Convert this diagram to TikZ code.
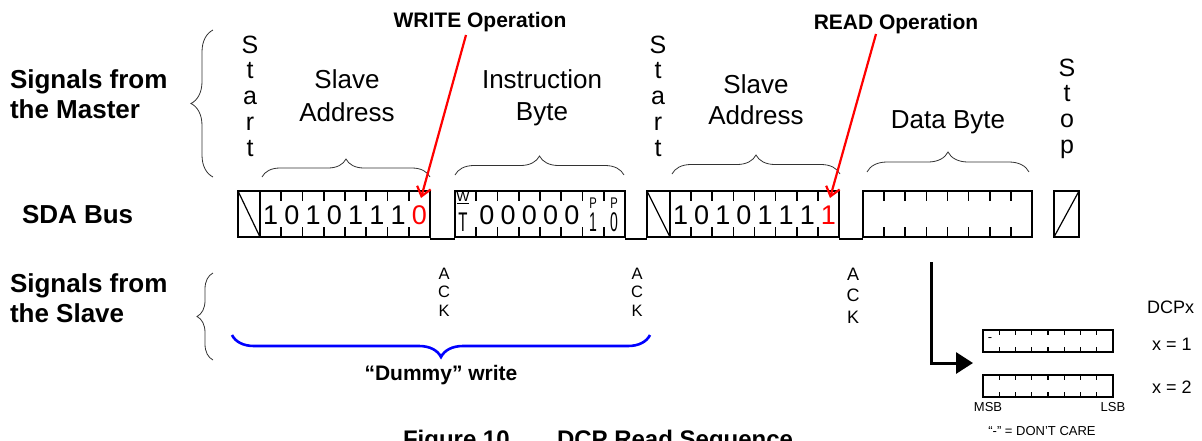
\documentclass[tikz,border=0pt]{standalone}
\usepackage{fontspec}
\setmainfont{Liberation Sans}
\usetikzlibrary{decorations.pathreplacing,arrows.meta}
\begin{document}
\begin{tikzpicture}[x=1pt,y=-1pt,
  every node/.style={inner sep=0pt, outer sep=0pt},
  bus/.style={line width=2pt},
  bustick/.style={line width=1.6pt},
  lowline/.style={line width=2pt},
  sidelbl/.style={font=\fontsize{26}{30}\selectfont\bfseries, anchor=base west},
  fieldlbl/.style={font=\fontsize{26}{30}\selectfont, anchor=base},
  vletter/.style={font=\fontsize{25}{30}\selectfont, anchor=base},
  digit/.style={font=\fontsize{27}{30}\selectfont, anchor=base},
  acklet/.style={font=\fontsize{16.5}{18}\selectfont, anchor=base},
  oplbl/.style={font=\fontsize{21}{24}\selectfont\bfseries, anchor=base},
  brc/.style={decorate, decoration={brace, amplitude=#1}, line width=0.8pt, black!80},
  redarrow/.style={draw=red, line width=2.2pt, -{Straight Barb[length=9pt,width=14pt,line width=2.2pt]}},
  regbox/.style={line width=1.8pt},
  regtick/.style={line width=1.3pt},
  small/.style={font=\fontsize{13}{15}\selectfont, anchor=base},
  dcp/.style={font=\fontsize{18}{20}\selectfont, anchor=base west}
]
\useasboundingbox (0,0) rectangle (1202,440);

% ---------- left labels ----------
\node[sidelbl] (m1) at (10,88) {Signals from};
\node[sidelbl] (m2) at (10,118) {the Master};
\node[sidelbl] (sda) at (22,223) {SDA Bus};
\node[sidelbl] (s1) at (10,292) {Signals from};
\node[sidelbl] (s2) at (10,322) {the Slave};

\draw[brc=22pt] (213,177) -- (213,30);
\draw[brc=16pt] (213,360) -- (213,273);

% ---------- Start / Stop vertical letters ----------
\foreach \c [count=\i from 0] in {S,t,a,r,t}
  \node[vletter, name=stA\i] at (250,53+25.8*\i) {\c};
\foreach \c [count=\i from 0] in {S,t,a,r,t}
  \node[vletter, name=stB\i] at (658,53+25.8*\i) {\c};
\foreach \c [count=\i from 0] in {S,t,o,p}
  \node[vletter, name=sp\i] at (1067,76+25.8*\i) {\c};

% ---------- field labels ----------
\node[fieldlbl] (sa1a) at (347,88) {Slave};
\node[fieldlbl] (sa1b) at (347,121) {Address};
\node[fieldlbl] (ib1) at (542,88) {Instruction};
\node[fieldlbl] (ib2) at (542,120) {Byte};
\node[fieldlbl] (sa2a) at (756,93) {Slave};
\node[fieldlbl] (sa2b) at (756,124) {Address};
\node[fieldlbl] (db) at (948,128) {Data Byte};

% ---------- braces over fields ----------
\draw[brc=18pt] (262,177) -- (430,177);
\draw[brc=19pt] (455,175) -- (624,175);
\draw[brc=19pt] (672,174) -- (840,174);
\draw[brc=20pt] (867,172) -- (1029,172);

% ---------- operation labels ----------
\node[oplbl] (wop) at (480,27) {WRITE Operation};
\node[oplbl] (rop) at (896,29) {READ Operation};

% ---------- SDA bus ----------
% start 1
\draw[bus] (238,191) rectangle (260,237);
\draw[line width=1.2pt] (238,191) -- (260,237);
% slave address 1
\draw[bus] (260,191) rectangle (430,237);
\foreach \k in {1,...,7}
  \draw[bustick] (260+21.25*\k,191) -- ++(0,10) (260+21.25*\k,237) -- ++(0,-10);
\foreach \d [count=\i from 0] in {1,0,1,0,1,1,1}
  \node[digit, name=a\i] at (260+21.25*\i+10.625,224) {\d};
\node[digit, text=red] (a7) at (260+21.25*7+10.625,224) {0};
\draw[lowline] (430,238.5) -- (455,238.5);
% instruction byte
\draw[bus] (455,191) rectangle (625,237);
\foreach \k in {1,...,7}
  \draw[bustick] (455+21.25*\k,191) -- ++(0,10) (455+21.25*\k,237) -- ++(0,-10);
\foreach \i in {1,...,5}
  \node[digit, name=b\i] at (455+21.25*\i+10.625,224) {0};
\node[anchor=base, font=\fontsize{14}{14}\selectfont] (bw) at (463,201) {W};
\draw[line width=0.8pt] (457,203) -- (469,203);
\node[anchor=base, font=\fontsize{20}{22}\selectfont] (bt) at (463,231) {\scalebox{0.75}[1.35]{T}};
\node[anchor=base, font=\fontsize{14}{14}\selectfont] (bp1) at (593,208) {\scalebox{0.8}[1.1]{P}};
\node[anchor=base, font=\fontsize{20}{22}\selectfont] (b1) at (593,231) {\scalebox{0.7}[1.35]{1}};
\node[anchor=base, font=\fontsize{14}{14}\selectfont] (bp0) at (614,208) {\scalebox{0.8}[1.1]{P}};
\node[anchor=base, font=\fontsize{20}{22}\selectfont] (b0) at (614,231) {\scalebox{0.7}[1.35]{0}};
\draw[lowline] (625,238.5) -- (647,238.5);
% start 2
\draw[bus] (647,191) rectangle (670,237);
\draw[line width=1.2pt] (647,191) -- (670,237);
% slave address 2
\draw[bus] (670,191) rectangle (839,237);
\foreach \k in {1,...,7}
  \draw[bustick] (670+21.125*\k,191) -- ++(0,10) (670+21.125*\k,237) -- ++(0,-10);
\foreach \d [count=\i from 0] in {1,0,1,0,1,1,1}
  \node[digit, name=c\i] at (670+21.125*\i+10.56,224) {\d};
\node[digit, text=red] (c7) at (670+21.125*7+10.56,224) {1};
\draw[lowline] (839,238.5) -- (863,238.5);
% data byte
\draw[bus] (863,191) rectangle (1032,237);
\foreach \k in {1,...,7}
  \draw[bustick] (863+21.125*\k,191) -- ++(0,10) (863+21.125*\k,237) -- ++(0,-10);
% stop
\draw[bus] (1054,191) rectangle (1079,237);
\draw[line width=1.2pt] (1054,237) -- (1079,191);

% ---------- red arrows ----------
\coordinate (wfrom) at (466,35);
\coordinate (wto) at (421,198);
\coordinate (rfrom) at (876,34);
\coordinate (rto) at (830,198);
\draw[redarrow] (wfrom) -- (wto);
\draw[redarrow] (rfrom) -- (rto);

% ---------- ACK labels ----------
\foreach \c [count=\i from 0] in {A,C,K}
  \node[acklet, name=ackA\i] at (444,279+18.5*\i) {\c};
\foreach \c [count=\i from 0] in {A,C,K}
  \node[acklet, name=ackB\i] at (637,279+18.5*\i) {\c};
\foreach \c [count=\i from 0] in {A,C,K}
  \node[acklet, font=\fontsize{18}{20}\selectfont, name=ackC\i] at (853,280+21.5*\i) {\c};

% ---------- dummy write ----------
\draw[brc=22pt, draw=blue, line width=2.6pt] (650,335) -- (232,335);
\node[oplbl] (dummy) at (441,380) {“Dummy” write};

% ---------- DCP registers ----------
\coordinate (dfrom) at (931,262);
\coordinate (dto) at (973,363);
\draw[line width=3pt, -{Triangle[length=17pt,width=21pt]}] (dfrom) |- (dto);

\draw[regbox] (983,330) rectangle (1113,352);
\foreach \k in {1,...,7}
  \draw[regtick] (983+16.25*\k,330) -- ++(0,5) (983+16.25*\k,352) -- ++(0,-5);
\node[small] (dc) at (990,341) {-};
\draw[regbox] (983,375) rectangle (1113,397);
\foreach \k in {1,...,7}
  \draw[regtick] (983+16.25*\k,375) -- ++(0,5) (983+16.25*\k,397) -- ++(0,-5);

\node[dcp] (dcpx) at (1147,313) {DCPx};
\node[dcp] (x1) at (1152,350) {x = 1};
\node[dcp] (x2) at (1152,393) {x = 2};
\node[small] (msb) at (988,411) {MSB};
\node[small] (lsb) at (1113,411) {LSB};
\node[small] (care) at (1042,435) {“-” = DON’T CARE};

% ---------- caption (cut off at the lower edge, as in the reference) ----------
\node[font=\fontsize{24}{26}\selectfont\bfseries, anchor=base west] (fig) at (403,447) {Figure 10.};
\node[font=\fontsize{24}{26}\selectfont\bfseries, anchor=base west] (figt) at (557,447) {DCP Read Sequence};
\end{tikzpicture}
\end{document}
